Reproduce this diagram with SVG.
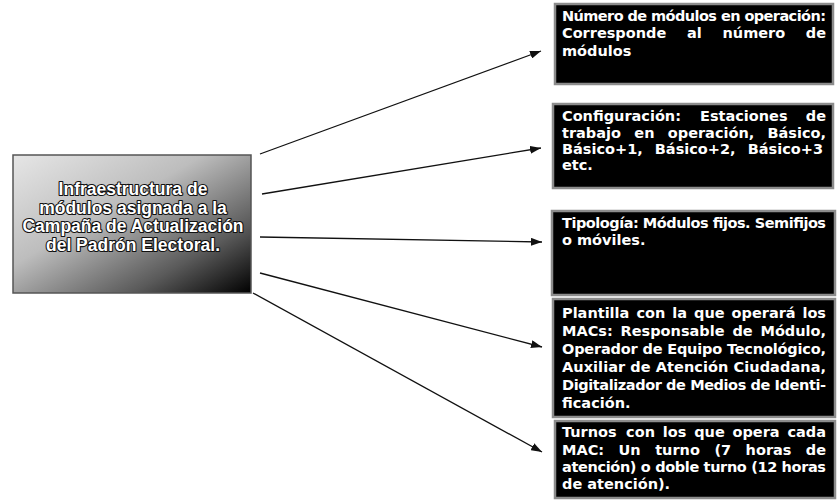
<svg xmlns="http://www.w3.org/2000/svg" width="837" height="502" viewBox="0 0 837 502">
<style>
.box{fill:#000;stroke:#8c8c8c;stroke-width:2.5}
.t{font-family:"DejaVu Sans",Verdana,sans-serif;font-weight:bold;font-size:14.5px;fill:#fff}
.e{text-anchor:end}
.lt{font-family:"Liberation Sans",Arial,sans-serif;font-weight:bold;font-size:17.5px;fill:#fff;stroke:#111;stroke-width:2.2;paint-order:stroke;stroke-linejoin:round;text-anchor:middle}
.c{fill:none;stroke:#111;stroke-width:1.3}
</style>
<defs>
<linearGradient id="g" x1="0" y1="0" x2="1" y2="1">
<stop offset="0" stop-color="#e6e6e6"/>
<stop offset="0.4" stop-color="#bdbdbd"/>
<stop offset="0.75" stop-color="#5a5a5a"/>
<stop offset="1" stop-color="#000"/>
</linearGradient>
<marker id="ah" markerUnits="userSpaceOnUse" markerWidth="11" markerHeight="8" refX="11" refY="4" orient="auto">
<path d="M0,0 L11,4 L0,8 z" fill="#111"/>
</marker>
</defs>

<g id="connectors">
<line class="c" x1="260" y1="154" x2="541" y2="51" marker-end="url(#ah)"/>
<line class="c" x1="262" y1="194" x2="541" y2="148" marker-end="url(#ah)"/>
<line class="c" x1="260" y1="237" x2="542" y2="242" marker-end="url(#ah)"/>
<line class="c" x1="260" y1="273" x2="542" y2="347" marker-end="url(#ah)"/>
<line class="c" x1="253" y1="293" x2="542" y2="452" marker-end="url(#ah)"/>
</g>

<g id="source">
<rect x="13" y="155" width="238" height="138" fill="url(#g)" stroke="#555" stroke-width="1.5"/>
<text class="lt" x="133" y="195">Infraestructura de</text>
<text class="lt" x="133" y="213.5">módulos asignada a la</text>
<text class="lt" x="133" y="232">Campaña de Actualización</text>
<text class="lt" x="133" y="250.5">del Padrón Electoral.</text>
</g>

<g id="n1">
<rect class="box" x="555" y="4" width="278" height="80"/>
<text class="t" x="562" y="21" textLength="264" lengthAdjust="spacing">Número de módulos en operación:</text>
<text class="t" y="38"><tspan x="562">Corresponde</tspan><tspan x="687">al</tspan><tspan x="722.5">número</tspan></text>
<text class="t e" x="826" y="38">de</text>
<text class="t" x="562" y="56">módulos</text>
</g>

<g id="n2">
<rect class="box" x="553" y="104" width="280" height="84"/>
<text class="t" y="121"><tspan x="562">Configuración:</tspan><tspan x="700">Estaciones</tspan></text>
<text class="t e" x="826" y="121">de</text>
<text class="t" y="138"><tspan x="562">trabajo</tspan><tspan x="634.3">en</tspan><tspan x="667.8">operación,</tspan></text>
<text class="t e" x="826" y="138">Básico,</text>
<text class="t" y="154"><tspan x="562">Básico+1,</tspan><tspan x="654.8">Básico+2,</tspan></text>
<text class="t e" x="823" y="154">Básico+3</text>
<text class="t" x="562" y="170">etc.</text>
</g>

<g id="n3">
<rect class="box" x="552" y="211" width="283" height="84"/>
<text class="t" x="562" y="228" textLength="264" lengthAdjust="spacing">Tipología: Módulos fijos. Semifijos</text>
<text class="t" x="562" y="245">o móviles.</text>
</g>

<g id="n4">
<rect class="box" x="553" y="299" width="282" height="118"/>
<text class="t" y="318"><tspan x="562">Plantilla</tspan><tspan x="636.4">con</tspan><tspan x="672.3">la</tspan><tspan x="694.1">que</tspan><tspan x="731.6">operará</tspan></text>
<text class="t e" x="826" y="318">los</text>
<text class="t" y="336"><tspan x="562">MACs:</tspan><tspan x="620.6">Responsable</tspan><tspan x="732.4">de</tspan></text>
<text class="t e" x="826" y="336">Módulo,</text>
<text class="t" x="562" y="354" textLength="264" lengthAdjust="spacing">Operador de Equipo Tecnológico,</text>
<text class="t" x="562" y="372" textLength="264" lengthAdjust="spacing">Auxiliar de Atención Ciudadana,</text>
<text class="t" x="562" y="390" textLength="264" lengthAdjust="spacing">Digitalizador de Medios de Identi-</text>
<text class="t" x="562" y="408">ficación.</text>
</g>

<g id="n5">
<rect class="box" x="555" y="421" width="280" height="77"/>
<text class="t" y="437"><tspan x="562">Turnos</tspan><tspan x="626.1">con</tspan><tspan x="662.8">los</tspan><tspan x="694.2">que</tspan><tspan x="732.5">opera</tspan></text>
<text class="t e" x="826" y="437">cada</text>
<text class="t" y="455"><tspan x="562">MAC:</tspan><tspan x="618.6">Un</tspan><tspan x="655.2">turno</tspan><tspan x="714.4">(7</tspan><tspan x="745.6">horas</tspan></text>
<text class="t e" x="826" y="455">de</text>
<text class="t" x="562" y="472" textLength="264" lengthAdjust="spacing">atención) o doble turno (12 horas</text>
<text class="t" x="562" y="489">de atención).</text>
</g>
</svg>
